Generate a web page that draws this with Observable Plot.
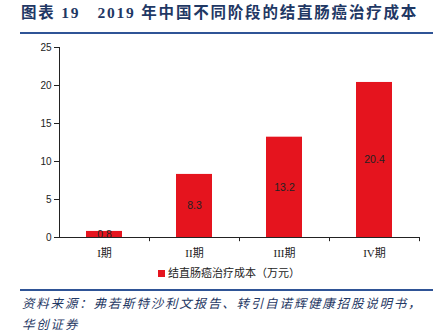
<!DOCTYPE html>
<html><head><meta charset="utf-8">
<script src="https://cdn.jsdelivr.net/npm/d3@7"></script>
<script src="https://cdn.jsdelivr.net/npm/@observablehq/plot@0.6"></script>
<style>
body{margin:0;background:#fff;}
#wrap{position:relative;width:439px;height:332px;overflow:hidden;font-family:"Noto Sans CJK SC",sans-serif;}
#title{position:absolute;left:21px;top:3px;font-size:15.5px;line-height:20px;font-weight:bold;color:#1f3864;white-space:nowrap;font-family:"Liberation Serif","Noto Sans CJK SC",serif;letter-spacing:1.8px;}
.hr{position:absolute;left:20px;width:413px;height:2px;background:#2f5496;}
.src{position:absolute;left:22px;font-size:12.5px;line-height:16px;font-style:italic;color:#1f3864;white-space:nowrap;letter-spacing:1.8px;}
#legend{position:absolute;left:158px;top:264px;font-size:11px;line-height:16px;color:#222;white-space:nowrap;}
#legend span.sw{display:inline-block;width:7px;height:7px;background:#e5141e;margin-right:3px;vertical-align:0px;}
#chart{position:absolute;left:0;top:0;}
</style></head>
<body>
<div id="wrap">
<div id="chart"></div>
<div id="title">图表 19&nbsp;&nbsp;&nbsp;2019 年中国不同阶段的结直肠癌治疗成本</div>
<div class="hr" style="top:32px"></div>
<div id="legend"><span class="sw"></span>结直肠癌治疗成本（万元）</div>
<div class="hr" style="top:289px"></div>
<div class="src" style="top:295px">资料来源：弗若斯特沙利文报告、转引自诺辉健康招股说明书，</div>
<div class="src" style="top:316px">华创证券</div>
</div>
<script>
const stages = ["I期","II期","III期","IV期"];
const costs = [0.8, 8.3, 13.2, 20.4];
const yTicks = [0,5,10,15,20,25];
const data = stages.map((s,i)=>({stage:s, cost:costs[i]}));
const red = "#e5141e";
const chart = Plot.plot({
  width:439, height:332,
  marginTop:47, marginBottom:95, marginLeft:59, marginRight:20,
  style:{background:"transparent", overflow:"visible"},
  x:{domain:stages, paddingInner:0.6, paddingOuter:0.3, label:null},
  y:{domain:[0,25], label:null},
  marks:[
    Plot.barY(data,{x:"stage", y:"cost", fill:red}),
    Plot.text(data,{x:"stage", y:d=>d.cost/2, text:d=>d.cost.toFixed(1), fill:"#222", fontSize:10.5, fontFamily:"Liberation Sans, sans-serif"}),
    Plot.axisY({ticks:yTicks, tickSize:5, tickPadding:3, fontSize:10, fontFamily:"Liberation Sans, sans-serif", color:"#222", stroke:"#222"}),
    Plot.ruleX([stages[0]],{x:d=>d, dx:-45, y1:0, y2:25, stroke:"#222"}),
    Plot.ruleY([0],{stroke:"#222"}),
    Plot.ruleX(stages,{x:d=>d, dx:45, y1:0, y2:-0.55, stroke:"#222"}),
    Plot.axisX({tickSize:0, tickPadding:12, fontSize:11, fontFamily:"Liberation Serif, Noto Sans CJK SC, serif", color:"#222"})
  ]
});
document.getElementById("chart").appendChild(chart);
</script>
</body></html>
